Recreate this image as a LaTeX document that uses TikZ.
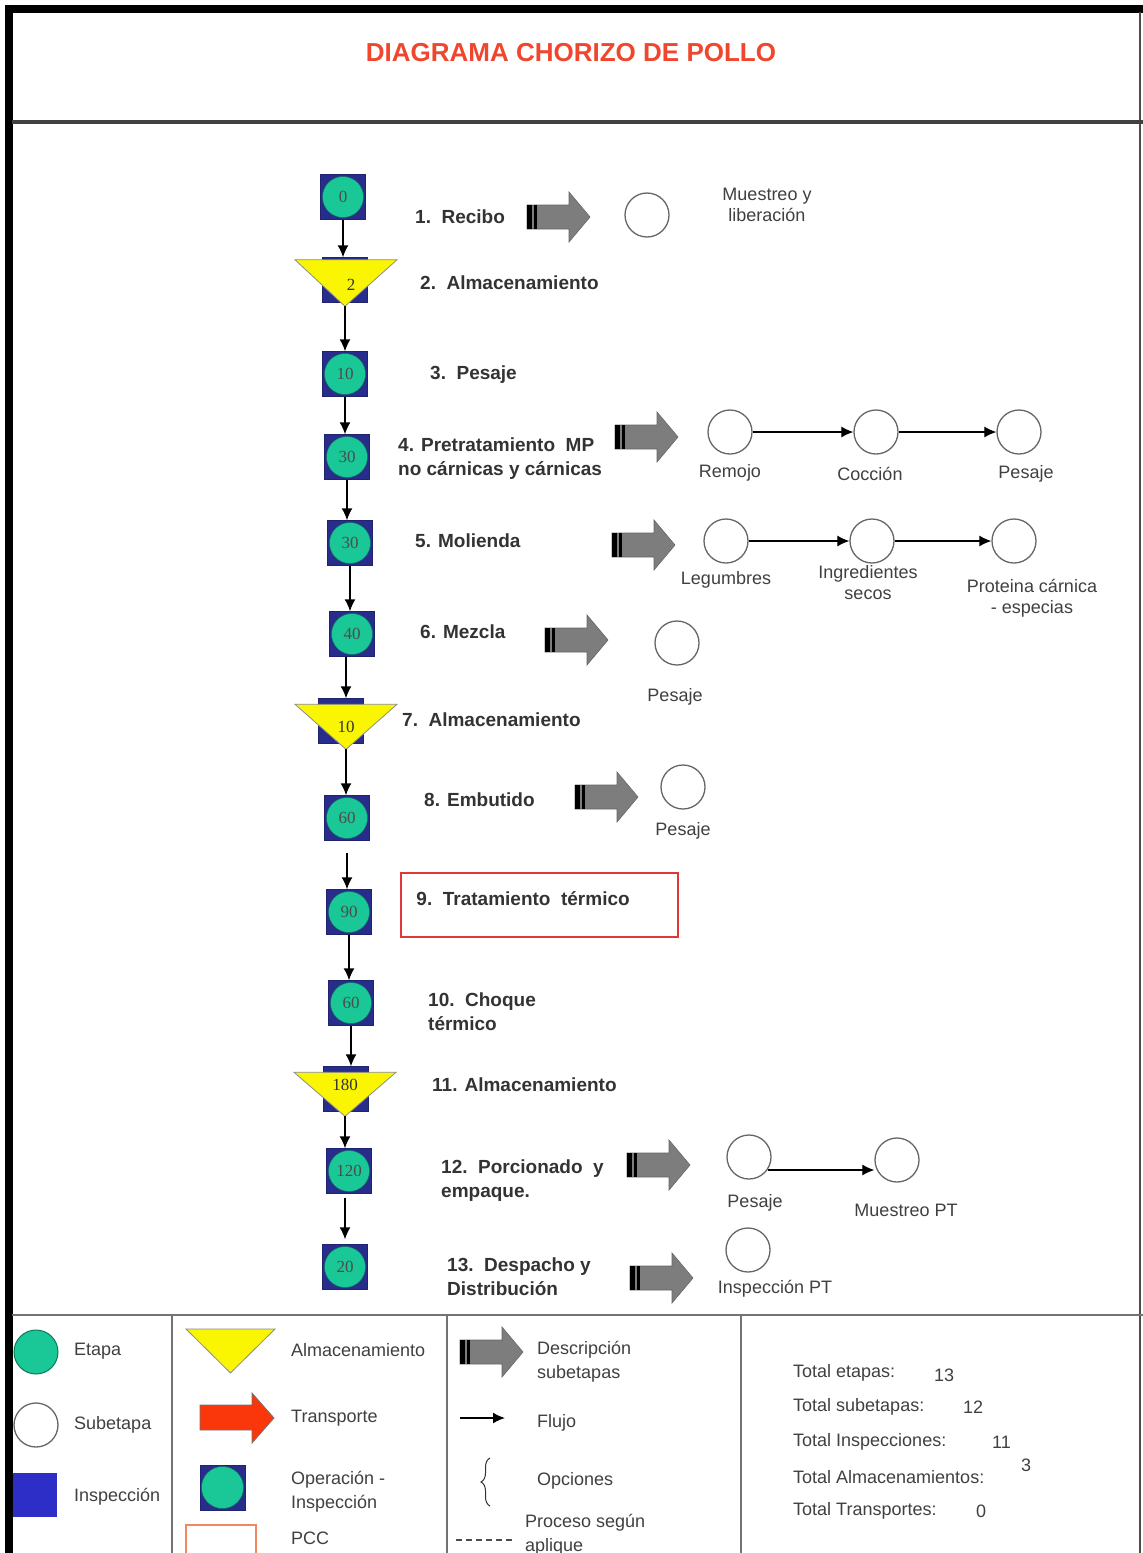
\documentclass[tikz,border=0pt]{standalone}
\usepackage{fontspec}
\setmainfont{Liberation Sans}
\newfontfamily\numfont{Liberation Serif}
\usetikzlibrary{arrows.meta,positioning,calc,decorations.pathreplacing}
\definecolor{titulorojo}{RGB}{240,70,45}
\definecolor{verdeetapa}{RGB}{25,200,150}
\definecolor{azulop}{RGB}{40,45,140}
\definecolor{azulinsp}{RGB}{45,45,200}
\definecolor{amarillo}{RGB}{250,245,0}
\definecolor{grisflecha}{RGB}{125,125,125}
\definecolor{rojopcc}{RGB}{225,55,55}
\definecolor{rojotransp}{RGB}{250,55,10}

\tikzset{
  opsq/.style={draw=azulop!80!black, fill=azulop, minimum size=45pt, inner sep=0pt},
  etapa/.style={circle, draw=verdeetapa!60!black, fill=verdeetapa, minimum size=41pt, inner sep=0pt,
    font=\numfont\fontsize{17}{17}\selectfont, text=black!70},
  numlbl/.style={font=\numfont\fontsize{17}{17}\selectfont, text=black!80, inner sep=0pt},
  subetapa/.style={circle, draw=black!60, line width=1.3pt, fill=white, minimum size=44pt, inner sep=0pt},
  paso/.style={font=\bfseries\fontsize{19}{24}\selectfont, text=black!80, anchor=west, align=left, inner sep=0pt},
  sublbl/.style={font=\fontsize{18}{21}\selectfont, text=black!75, align=center, inner sep=0pt},
  leyenda/.style={font=\fontsize{18}{24}\selectfont, text=black!75, anchor=west, align=left, inner sep=0pt},
  flujo/.style={-{Latex[length=12pt,width=11pt]}, line width=1.5pt},
  almac/.style={fill=amarillo, draw=black!45, line width=0.8pt},
  marco/.style={draw=black!55, line width=1.5pt},
  subflecha/.pic={
    \filldraw[fill=grisflecha, draw=black!60, line width=0.6pt]
      (0,-12) -- (42,-12) -- (42,-25) -- (63,0) -- (42,25) -- (42,12) -- (0,12) -- cycle;
    \fill[black] (0,-12) rectangle (4.5,12);
    \fill[black] (6.5,-12) rectangle (9.5,12);
  },
}

\begin{document}
\begin{tikzpicture}[x=1pt,y=-1pt]
\useasboundingbox (0,0) rectangle (1143,1553);
\fill[white] (0,0) rectangle (1143,1553);

% marco y titulo
\fill[black] (5,5) rectangle (1143,12.7);
\fill[black] (5,5) rectangle (12.7,1553);
\draw[black!70, line width=2pt] (1140,12) -- (1140,1553);
\draw[black!75, line width=4.5pt] (12,122) -- (1143,122);
\node[font=\bfseries\fontsize{26}{26}\selectfont, text=titulorojo] (titulo) at (571,53) {DIAGRAMA CHORIZO DE POLLO};

% etapas
\node[opsq] (s1) at (343,197) {};
\node[etapa] at (s1) {0};
\node[opsq] (s2) at (345,280) {};
\filldraw[almac] ($(s2.north)+(-50,2.5)$) -- ($(s2.north)+(52,2.5)$) -- ($(s2.north)+(0,49)$) coordinate (a2) -- cycle;
\node[numlbl] at ($(s2.north)+(6,28)$) {2};
\node[opsq] (s3) at (345,374) {};
\node[etapa] at (s3) {10};
\node[opsq] (s4) at (347,457) {};
\node[etapa] at (s4) {30};
\node[opsq] (s5) at (350,543) {};
\node[etapa] at (s5) {30};
\node[opsq] (s6) at (352,634) {};
\node[etapa] at (s6) {40};
\node[opsq] (s7) at (341,721) {};
\filldraw[almac] ($(s7.north)+(-46,6)$) -- ($(s7.north)+(56,6)$) -- ($(s7.north)+(5,51)$) coordinate (a7) -- cycle;
\node[numlbl] at ($(s7.north)+(5,29)$) {10};
\node[opsq] (s8) at (347,818) {};
\node[etapa] at (s8) {60};
\node[opsq] (s9) at (349,912) {};
\node[etapa] at (s9) {90};
\node[opsq] (s10) at (351,1003) {};
\node[etapa] at (s10) {60};
\node[opsq] (s11) at (346,1089) {};
\filldraw[almac] ($(s11.north)+(-52,6)$) -- ($(s11.north)+(50,6)$) -- ($(s11.north)+(-1,50)$) coordinate (a11) -- cycle;
\node[numlbl] at ($(s11.north)+(-1,19)$) {180};
\node[opsq] (s12) at (349,1171) {};
\node[etapa] at (s12) {120};
\node[opsq] (s13) at (345,1267) {};
\node[etapa] at (s13) {20};

% flujo principal
\draw[flujo] (s1.south) -- (s1.south |- s2.north);
\draw[flujo] (a2) -- (a2 |- s3.north);
\draw[flujo] (s3.south) -- (s3.south |- s4.north);
\draw[flujo] (s4.south) -- (s4.south |- s5.north);
\draw[flujo] (s5.south) -- (s5.south |- s6.north);
\draw[flujo] (a7 |- s6.south) -- (a7 |- s7.north);
\draw[flujo] (a7) -- (a7 |- s8.north);
\draw[flujo, shorten <=12pt] (s8.south) -- (s8.south |- s9.north);
\draw[flujo] (s9.south) -- (s9.south |- s10.north);
\draw[flujo] (s10.south) -- (s10.south |- s11.north);
\draw[flujo] (a11) -- (a11 |- s12.north);
\draw[flujo, shorten <=4pt, shorten >=5pt] (s13.north |- s12.south) -- (s13.north);

% textos de etapas
\node[paso] (t1) at (415,217) {1.\ \ Recibo};
\node[paso] (t2) at (420,283) {2.\ \ Almacenamiento};
\node[paso] (t3) at (430,375) {3.\ \ Pesaje};
\node[paso] (t4) at (398,459) {4. Pretratamiento\ \ MP\\no cárnicas y cárnicas};
\node[paso] (t5) at (415,541) {5. Molienda};
\node[paso] (t6) at (420,632) {6. Mezcla};
\node[paso] (t7) at (402,720) {7.\ \ Almacenamiento};
\node[paso] (t8) at (424,800) {8. Embutido};
\node[draw=rojopcc, line width=1.5pt, minimum width=277pt, minimum height=64pt, inner sep=0pt] (b9) at (539.5,905) {};
\node[paso] (t9) at ([xshift=16pt,yshift=6pt]b9.west) {9.\ \ Tratamiento\ \ térmico};
\node[paso] (t10) at (428,1012) {10.\ \ Choque\\térmico};
\node[paso] (t11) at (432,1085) {11. Almacenamiento};
\node[paso] (t12) at (441,1181) {12.\ \ Porcionado\ \ y\\empaque.};
\node[paso] (t13) at (447,1277) {13.\ \ Despacho y\\Distribución};

% descripcion de subetapas
\pic at (527,217) {subflecha};
\pic at (615,437) {subflecha};
\pic at (612,545) {subflecha};
\pic at (545,640) {subflecha};
\pic at (575,797) {subflecha};
\pic at (627,1165) {subflecha};
\pic at (630,1278) {subflecha};

\node[subetapa] (c1) at (647,215) {};
\node[sublbl] (l1) at (767,205) {Muestreo y\\liberación};

\node[subetapa] (c4a) at (730,432) {};
\node[subetapa] (c4b) at (876,432) {};
\node[subetapa] (c4c) at (1019,432) {};
\draw[flujo, line width=1.2pt] (c4a) -- (c4b);
\draw[flujo, line width=1.2pt] (c4b) -- (c4c);
\node[sublbl] (l4a) at (730,473) {Remojo};
\node[sublbl] (l4b) at (870,474) {Cocción};
\node[sublbl] (l4c) at (1026,474) {Pesaje};

\node[subetapa] (c5a) at (726,541) {};
\node[subetapa] (c5b) at (872,541) {};
\node[subetapa] (c5c) at (1014,541) {};
\draw[flujo, line width=1.2pt] (c5a) -- (c5b);
\draw[flujo, line width=1.2pt] (c5b) -- (c5c);
\node[sublbl] (l5a) at (726,580) {Legumbres};
\node[sublbl] (l5b) at (868,583) {Ingredientes\\secos};
\node[sublbl] (l5c) at (1032,598) {Proteina cárnica\\- especias};

\node[subetapa] (c6) at (677,643) {};
\node[sublbl] (l6) at (675,697) {Pesaje};

\node[subetapa] (c8) at (683,787) {};
\node[sublbl] (l8) at (683,831) {Pesaje};

\node[subetapa] (c12a) at (749,1157) {};
\node[subetapa] (c12b) at (897,1160) {};
\draw[flujo, line width=1.2pt] (c12a.-35) -- (c12a.-35 -| c12b.west);
\node[sublbl] (l12a) at (755,1203) {Pesaje};
\node[sublbl] (l12b) at (906,1210) {Muestreo PT};

\node[subetapa] (c13) at (748,1250) {};
\node[sublbl] (l13) at (775,1289) {Inspección PT};

% leyenda
\draw[marco] (12,1315) -- (1143,1315);
\draw[marco] (172,1315) -- (172,1553);
\draw[marco] (447,1315) -- (447,1553);
\draw[marco] (741,1315) -- (741,1553);

\node[circle, draw=verdeetapa!60!black, fill=verdeetapa, minimum size=44pt, line width=1pt] (letapa) at (36,1352) {};
\node[leyenda] at (74,1351) {Etapa};
\node[subetapa] (lsub) at (36,1425) {};
\node[leyenda] at (74,1425) {Subetapa};
\node[fill=azulinsp, minimum size=44pt, inner sep=0pt] (linsp) at (35,1495) {};
\node[leyenda] at (74,1497) {Inspección};

\filldraw[almac] (186,1329) -- (275,1329) -- (230.5,1373) coordinate (lalm) -- cycle;
\node[leyenda] at (291,1350) {Almacenamiento};
\filldraw[fill=rojotransp, draw=black!55, line width=0.8pt]
  (200,1405) -- (252,1405) -- (252,1393) -- (274,1418) -- (252,1443) -- (252,1430) -- (200,1430) -- cycle;
\node[leyenda] at (291,1418) {Transporte};
\node[opsq] (lop) at (222.5,1487.5) {};
\node[etapa, minimum size=42pt] at (lop) {};
\node[leyenda] at (291,1492) {Operación -\\Inspección};
\node[draw=rojopcc!60!orange!70, line width=1.2pt, minimum width=70pt, minimum height=40pt, inner sep=0pt] (lpcc) at (221,1545) {};
\node[leyenda] at (291,1538) {PCC};

\pic at (460,1352) {subflecha};
\node[leyenda] at (537,1362) {Descripción\\subetapas};
\coordinate (lfa) at (460,1418);
\coordinate (lfb) at (505,1418);
\draw[flujo] (lfa) -- (lfb);
\node[leyenda] at (537,1423) {Flujo};
\coordinate (lla) at (490,1506);
\coordinate (llb) at (490,1458);
\draw[black!80, line width=1pt, decorate, decoration={brace, amplitude=9pt}] (lla) -- (llb);
\node[leyenda] at (537,1481) {Opciones};
\coordinate (lda) at (456,1540);
\coordinate (ldb) at (515,1540);
\draw[black!70, line width=1.3pt, dash pattern=on 6pt off 4pt] (lda) -- (ldb);
\node[leyenda] at (525,1535) {Proceso según\\aplique};

\node[leyenda] (tot1) at (793,1373) {Total etapas:};
\node[leyenda] at (934,1375) {13};
\node[leyenda] (tot2) at (793,1407) {Total subetapas:};
\node[leyenda] at (963,1407) {12};
\node[leyenda] (tot3) at (793,1442) {Total Inspecciones:};
\node[leyenda] at (992,1442) {11};
\node[leyenda] (tot4) at (793,1477) {Total Almacenamientos:};
\node[leyenda] at (1021,1465) {3};
\node[leyenda] (tot5) at (793,1511) {Total Transportes:};
\node[leyenda] at (976,1511) {0};
\end{tikzpicture}
\end{document}
